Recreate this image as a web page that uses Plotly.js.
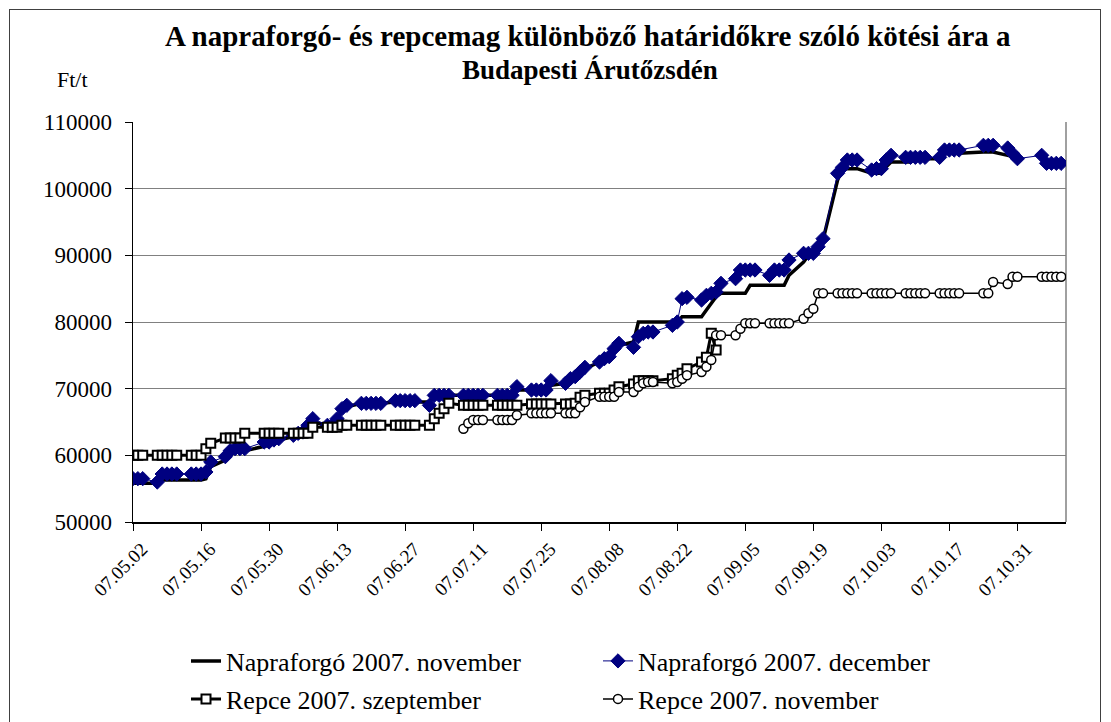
<!DOCTYPE html>
<html>
<head>
<meta charset="utf-8">
<script src="https://cdn.plot.ly/plotly-3.0.1.min.js"></script>
<style>
  html, body { margin: 0; padding: 0; background: #fff; }
  #wrap { position: relative; width: 1111px; height: 722px; overflow: hidden; }
  #chart { position: absolute; left: 0; top: 0; width: 1111px; height: 722px; }
  #frame { position: absolute; left: 9px; top: 9px; width: 1092px; height: 800px;
           border: 1.5px solid #404040; pointer-events: none; box-sizing: border-box; }
</style>
</head>
<body>
<div id="wrap"><div id="chart"></div><div id="frame"></div></div>
<script>
// Trading days (2007, MM-DD)
const tradingDays = [
  "05-02","05-03","05-04","05-07","05-08","05-09","05-10","05-11","05-14","05-15","05-16","05-17","05-18","05-21","05-22","05-23","05-24","05-25","05-29","05-30","05-31",
  "06-01","06-04","06-05","06-06","06-07","06-08","06-11","06-12","06-13","06-14","06-15","06-18","06-19","06-20","06-21","06-22","06-25","06-26","06-27","06-28","06-29",
  "07-02","07-03","07-04","07-05","07-06","07-09","07-10","07-11","07-12","07-13","07-16","07-17","07-18","07-19","07-20","07-23","07-24","07-25","07-26","07-27","07-30","07-31",
  "08-01","08-02","08-03","08-06","08-07","08-08","08-09","08-10","08-13","08-14","08-15","08-16","08-17","08-21","08-22","08-23","08-24","08-27","08-28","08-29","08-30","08-31",
  "09-03","09-04","09-05","09-06","09-07","09-10","09-11","09-12","09-13","09-14","09-17","09-18","09-19","09-20","09-21","09-24","09-25","09-26","09-27","09-28",
  "10-01","10-02","10-03","10-04","10-05","10-08","10-09","10-10","10-11","10-12","10-15","10-16","10-17","10-18","10-19","10-24","10-25","10-26","10-29","10-30","10-31",
  "11-05","11-06","11-07","11-08","11-09"
];

// Napraforgó 2007. november (Ft/t)
const napNovStart = "05-02";
const napNovValues = [
  55800,55800,55800,55800,56300,56300,56300,56300,56300,56300,56300,56500,58300,59300,60300,60500,60500,60700,61300,61500,61800,
  62300,62800,63000,63300,64200,65000,64500,64500,65300,66800,67300,67800,67800,67800,67800,67800,68000,68000,68000,68000,68000,
  68000,68800,69000,69000,69000,69000,69000,69000,69000,69000,69000,69000,69000,69000,69800,69800,69800,69800,69800,70500,70800,71300,
  71500,72300,73000,74000,74500,74800,75800,76500,77000,80000,80000,80000,80000,80000,80000,80800,80800,80800,81800,82800,83800,84300,
  84300,84300,84300,85500,85500,85500,85500,85500,85500,87000,89000,90000,90300,91300,92300,101300,103000,103000,103000,103000,
  102300,102300,102300,103300,104000,104000,104000,104300,104500,104500,104500,105300,105300,105300,105300,105500,105500,105500,105000,104800,104000
];

// Napraforgó 2007. december (Ft/t)
const napDecStart = "05-02";
const napDecValues = [
  56500,56500,56500,56000,57200,57200,57200,57200,57200,57200,57200,57500,59000,59800,60700,61000,61000,61000,62000,62000,62300,
  62500,63000,63300,63500,64500,65500,64500,64500,65500,67000,67500,67800,67800,67800,67800,67800,68200,68200,68200,68200,68200,
  67500,69000,69000,69000,69000,69000,69000,69000,69000,69000,69000,69000,69000,69000,70300,69800,69800,69800,69800,71200,70800,71500,
  71800,72500,73200,74000,74500,74800,76000,76800,76200,77800,78300,78500,78500,79500,80000,83500,83700,83300,84000,84300,84500,85800,
  86500,87800,87800,87800,87800,87000,87800,87800,87800,89300,90300,90300,90300,91300,92500,102300,103200,104300,104300,104300,
  102800,103000,103000,104300,105000,104700,104700,104700,104700,104700,104700,105800,105800,105800,105800,106500,106500,106500,106100,105300,104500,
  105000,103800,103800,103800,103800
];

// Repce 2007. szeptember (Ft/t)
const repSepStart = "05-02";
const repSepValues = [
  60000,60000,60000,60000,60000,60000,60000,60000,60000,60000,60000,61000,61800,62600,62600,62600,62600,63300,63300,63300,63300,
  63300,63300,63300,63300,63300,64200,64200,64200,64200,64500,64500,64500,64500,64500,64500,64500,64500,64500,64500,64500,64500,
  64500,65500,66300,67000,67800,67500,67500,67500,67500,67500,67500,67500,67500,67500,67500,67700,67700,67700,67700,67700,67700,67700,
  67800,68700,69000,69300,69300,69300,69800,70300,70700,71200,71200,71200,71200,71500,72000,72300,73000,74000,74700,78300,75800
];

// Repce 2007. november (Ft/t)
const repNovStart = "07-09";
const repNovValues = [
  64000,64800,65300,65300,65300,65300,65300,65300,65300,66000,66300,66300,66300,66300,66300,66300,66300,
  66300,67200,68000,68800,68800,68800,68800,69500,69500,70300,70800,71000,71000,70800,71000,71500,72000,72500,73300,74300,78000,78000,
  78000,79000,79800,79800,79800,79800,79800,79800,79800,79800,80500,81300,82000,84300,84300,84300,84300,84300,84300,84300,
  84300,84300,84300,84300,84300,84300,84300,84300,84300,84300,84300,84300,84300,84300,84300,84300,84300,86000,85700,86800,86800,
  86800,86800,86800,86800,86800
];

const seriesNames = ["Napraforgó 2007. november","Napraforgó 2007. december","Repce 2007. szeptember","Repce 2007. november"];
const yTickValues = [50000,60000,70000,80000,90000,100000,110000];

function xs(start, values) {
  const i0 = tradingDays.indexOf(start);
  return tradingDays.slice(i0, i0 + values.length).map(d => "2007-" + d);
}

const FONT = "Liberation Serif, Times New Roman, serif";

const traces = [
  { x: xs(napNovStart, napNovValues), y: napNovValues, name: seriesNames[0], type: "scatter", mode: "lines",
    line: { color: "#000000", width: 3.5 }, legend: "legend" },
  { x: xs(napDecStart, napDecValues), y: napDecValues, name: seriesNames[1], type: "scatter", mode: "lines+markers",
    line: { color: "#000080", width: 1 },
    marker: { symbol: "diamond", size: 11, color: "#000080", line: { color: "#000080", width: 1 } }, legend: "legend2" },
  { x: xs(repSepStart, repSepValues), y: repSepValues, name: seriesNames[2], type: "scatter", mode: "lines+markers",
    line: { color: "#000000", width: 3 },
    marker: { symbol: "square", size: 9, color: "#ffffff", line: { color: "#000000", width: 2 } }, legend: "legend3" },
  { x: xs(repNovStart, repNovValues), y: repNovValues, name: seriesNames[3], type: "scatter", mode: "lines+markers",
    line: { color: "#000000", width: 1.5 },
    marker: { symbol: "circle", size: 9, color: "#ffffff", line: { color: "#000000", width: 1.5 } }, legend: "legend4" }
];

const L = 133, R = 1066, T = 122, B = 522;
const pw = R - L, ph = B - T;
const px = v => (v - L) / pw;
const py = v => (B - v) / ph;

function legendAt(xPix, yPix) {
  return { x: px(xPix), y: py(yPix), xanchor: "left", yanchor: "middle", orientation: "h",
           font: { family: FONT, size: 26, color: "#000" }, bgcolor: "rgba(0,0,0,0)", borderwidth: 0 };
}

const layout = {
  width: 1111, height: 722,
  margin: { l: L, r: 1111 - R, t: T, b: 722 - B, pad: 0, autoexpand: false },
  paper_bgcolor: "#ffffff", plot_bgcolor: "#ffffff",
  font: { family: FONT, color: "#000000", size: 22 },
  showlegend: true,
  xaxis: {
    type: "date",
    range: ["2007-05-02", "2007-11-10"],
    tick0: "2007-05-02", dtick: 14 * 86400000,
    tickformat: "%y.%m.%d",
    tickangle: -45,
    ticks: "outside", ticklen: 7, tickcolor: "#000", tickwidth: 1,
    ticklabelshift: 9,
    showgrid: false, zeroline: false,
    showline: true, linecolor: "#000000", linewidth: 1.5,
    automargin: false,
    tickfont: { family: FONT, size: 19, color: "#000" }
  },
  yaxis: {
    range: [50000, 110000],
    tickvals: yTickValues,
    ticktext: yTickValues.map(String),
    ticks: "outside", ticklen: 7, tickcolor: "#000", tickwidth: 1,
    ticklabelstandoff: 8,
    showgrid: true, gridcolor: "#808080", gridwidth: 1,
    zeroline: false,
    showline: true, linecolor: "#000000", linewidth: 1.5,
    automargin: false,
    tickfont: { family: FONT, size: 23, color: "#000" }
  },
  shapes: [
    { type: "line", xref: "paper", yref: "paper", x0: 1, x1: 1, y0: 0, y1: 1,
      line: { color: "#808080", width: 1.5 }, layer: "below" }
  ],
  annotations: [
    { text: "<b>A napraforgó- és repcemag különböző határidőkre szóló kötési ára a</b>",
      xref: "paper", yref: "paper", x: px(588), y: py(36), xanchor: "center", yanchor: "middle",
      showarrow: false, font: { family: FONT, size: 29, color: "#000" } },
    { text: "<b>Budapesti Árutőzsdén</b>",
      xref: "paper", yref: "paper", x: px(590), y: py(70), xanchor: "center", yanchor: "middle",
      showarrow: false, font: { family: FONT, size: 27, color: "#000" } },
    { text: "Ft/t",
      xref: "paper", yref: "paper", x: px(72), y: py(79), xanchor: "center", yanchor: "middle",
      showarrow: false, font: { family: FONT, size: 22, color: "#000" } }
  ],
  legend: legendAt(186, 661),
  legend2: legendAt(598, 661),
  legend3: legendAt(186, 699),
  legend4: legendAt(598, 699)
};

Plotly.newPlot("chart", traces, layout, { displayModeBar: false, staticPlot: true });
</script>
</body>
</html>
